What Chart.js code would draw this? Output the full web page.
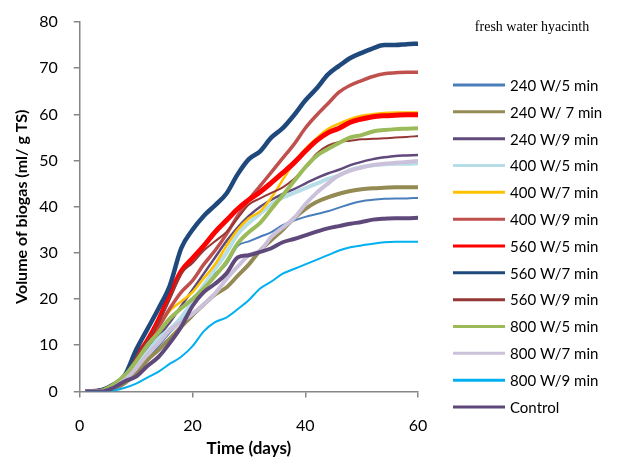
<!DOCTYPE html>
<html>
<head>
<meta charset="utf-8">
<script src="https://cdn.jsdelivr.net/npm/chart.js@4.4.1/dist/chart.umd.min.js"></script>
<style>
html,body{margin:0;padding:0;background:#fff;}
#c{display:block;}
</style>
</head>
<body>
<canvas id="c" width="623" height="461"></canvas>
<script>
const days = [1,2,4,6,8,10,12,14,16,18,20,22,24,26,28,30,32,34,36,38,40,42,44,46,48,50,52,54,56,58,60];

const labels = ["240 W/5 min","240 W/ 7 min","240 W/9 min","400 W/5 min","400 W/7 min","400 W/9 min","560 W/5 min","560 W/7 min","560 W/9 min","800 W/5 min","800 W/7 min","800 W/9 min","Control"];

const w240_5 = [0,0,0,0.8,2,4,6.8,9.8,12.8,15.4,19.5,22.5,25.5,27.5,31.5,32.5,33.5,34.5,36,37,37.8,38.4,39,39.8,40.6,41.2,41.5,41.7,41.8,41.8,41.9];
const w240_7 = [0,0,0,0.5,1.8,4,6.8,9,11.5,14,16.5,18.8,21,22.5,25,27.5,30.5,32.8,35,37.5,39.5,41,42,42.8,43.4,43.8,44,44.1,44.2,44.2,44.2];
const w240_9 = [0,0,0.2,1.3,3,6,9,12,15,18.5,22,25.5,29,32.5,35.5,38,40,41.5,42.8,43.8,45,46.2,47.2,48,49,49.7,50.3,50.7,51,51.1,51.2];
const w400_5 = [0,0,0.2,1.3,3,5.8,8.5,11.5,13.5,16,19.5,23,26.5,30,34,36.5,38.5,40.5,42,43,44,45,46,46.8,48,48.6,49,49.2,49.3,49.3,49.4];
const w400_7 = [0,0,0.3,1.5,3.5,7,10.5,14,17.5,19.5,21.5,24.5,27.5,31.5,35,37.5,39,42,45.8,49.5,52.5,54.8,56.8,58,59,59.7,60,60.3,60.4,60.4,60.4];
const w400_9 = [0,0,0.2,1.3,3.2,7,10.5,14,18,21.5,24,27.5,30.5,34,38,41.5,44.5,47.5,50.5,53.5,57,59.8,62.3,64.8,66.3,67.3,68.2,68.8,69,69.1,69.1];
const w560_5 = [0,0,0.2,1.3,3.2,7.5,11,15.5,21,26,28.8,31.5,34.5,37,39.5,41.5,43.2,45.2,47.3,49.5,52,54.3,56,57,58.3,59,59.5,59.7,59.8,59.9,59.9];
const w560_7 = [0,0,0.3,1.5,3.5,9,13.5,18,23,31,35,38,40.3,42.8,47,50.3,52,55,57,59.8,63,65.6,68.6,70.5,72.2,73.3,74.3,75,75,75.2,75.3];
const w560_9 = [0,0,0.2,1.2,3,7.5,11,15,20,25.5,27.8,30.5,32.5,34.5,37.5,40.5,41.8,43,44.2,46,48.5,51.5,53.2,54,54.3,54.6,54.7,54.8,55,55.1,55.3];
const w800_5 = [0,0,0.2,1.5,3.5,6.5,10,12.8,15.8,18,20,22.3,25,28,32,34.5,36.5,39.5,42.5,45.5,48.5,51,52.5,53.8,55,55.5,56.3,56.6,56.8,56.9,57];
const w800_7 = [0,0,0,0.8,2.5,5,8,10.5,13.3,15,16.8,18.8,21.2,24.3,27,29.5,30.5,33.5,35.5,37.5,40.5,43,45,46.8,47.8,48.5,49,49.3,49.5,49.7,49.9];
const w800_9 = [0,0,0,0.2,0.8,1.7,3,4.3,6,7.5,9.8,13,15,16,17.8,19.8,22.3,23.8,25.5,26.5,27.5,28.5,29.5,30.5,31.2,31.6,32,32.3,32.4,32.4,32.4];
const control = [0,0,0,0.8,2.2,3.2,5.5,7.5,10.5,14,18.5,21.5,23.3,25.5,29,29.5,30.2,31,32.3,33,33.8,34.6,35.3,35.8,36.3,36.7,37.2,37.4,37.5,37.5,37.6];

const seriesValues = [w240_5,w240_7,w240_9,w400_5,w400_7,w400_9,w560_5,w560_7,w560_9,w800_5,w800_7,w800_9,control];
const colors = ["#4A7EBB","#948A54","#604A7B","#B7DEE8","#FFC000","#C0504D","#FF0000","#1F497D","#953735","#9BBB59","#CCC1DA","#00B0F0","#5F497A"];
const widths = [2,4,2.5,4,2.5,3.5,5,4.5,2,4,4,2,4];

const xTicks = [0,20,40,60];
const yTicks = [0,10,20,30,40,50,60,70,80];
const legendTitle = 'fresh water hyacinth';

const FONT = "Lato, 'Open Sans', sans-serif";

const datasets = seriesValues.map((vals,i)=>({
  label: labels[i],
  data: days.map((d,j)=>({x:d,y:vals[j]})),
  borderColor: colors[i],
  backgroundColor: colors[i],
  borderWidth: widths[i],
  pointRadius: 0,
  fill: false,
  cubicInterpolationMode: 'monotone',
  order: seriesValues.length - i
}));

const sideLegend = {
  id: 'sideLegend',
  afterDraw(chart) {
    const ctx = chart.ctx;
    ctx.save();
    ctx.fillStyle = '#000';
    ctx.textBaseline = 'middle';
    ctx.textAlign = 'center';
    ctx.font = "14px 'Liberation Serif', 'Times New Roman', serif";
    ctx.fillText(legendTitle, 532, 27);
    ctx.textAlign = 'left';
    ctx.font = "15px " + FONT;
    chart.data.datasets.forEach((ds, i) => {
      const y = 85 + i * 26.83;
      ctx.strokeStyle = ds.borderColor;
      ctx.lineWidth = 3;
      ctx.beginPath();
      ctx.moveTo(453, y);
      ctx.lineTo(505, y);
      ctx.stroke();
      ctx.fillStyle = '#000';
      ctx.fillText(ds.label, 510, y + 1);
    });
    ctx.restore();
  }
};

new Chart(document.getElementById('c'), {
  type: 'line',
  data: { datasets },
  plugins: [sideLegend],
  options: {
    responsive: false,
    animation: false,
    devicePixelRatio: 1,
    layout: { padding: { top: 0, right: 205, bottom: 2, left: 12 } },
    plugins: {
      tooltip: { enabled: false },
      legend: { display: false }
    },
    scales: {
      x: {
        type: 'linear', min: 0, max: 60,
        afterBuildTicks: (axis) => { axis.ticks = xTicks.map(v=>({value:v})); },
        border: { color: '#868686', width: 1.5 },
        grid: { display: true, drawOnChartArea: false, drawTicks: true, tickLength: 6, color: '#868686', lineWidth: 1.5 },
        ticks: { color: '#000', font: { family: FONT, size: 16 }, padding: 19, maxRotation: 0 },
        title: { display: true, text: 'Time (days)', color: '#000', font: { family: FONT, size: 17, weight: 'bold' }, padding: { top: -16, bottom: 0 } }
      },
      y: {
        type: 'linear', min: 0, max: 80,
        afterBuildTicks: (axis) => { axis.ticks = yTicks.map(v=>({value:v})); },
        border: { color: '#868686', width: 1.5 },
        grid: { display: true, drawOnChartArea: false, drawTicks: true, tickLength: 6, color: '#868686', lineWidth: 1.5 },
        ticks: { color: '#000', font: { family: FONT, size: 16, lineHeight: 0.75 }, padding: 16 },
        title: { display: true, text: 'Volume of biogas (ml/ g TS)', color: '#000', font: { family: FONT, size: 16, weight: 'bold' }, padding: { top: 0, bottom: -8 } }
      }
    }
  }
});
</script>
</body>
</html>
